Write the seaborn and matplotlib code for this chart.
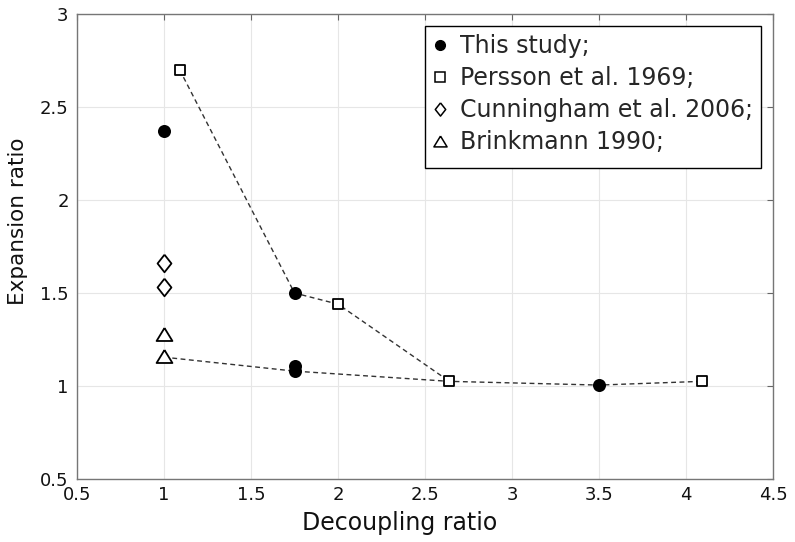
import numpy as np
import pandas as pd
import seaborn as sns
import matplotlib.pyplot as plt
from matplotlib.lines import Line2D
from matplotlib.patches import Rectangle

# data
sources = ["This study;", "Persson et al. 1969;", "Cunningham et al. 2006;", "Brinkmann 1990;"]

this_x = [1.0, 1.75, 1.75, 1.75, 3.5]
this_y = [2.37, 1.50, 1.11, 1.08, 1.005]

persson_x = [1.09, 2.0, 2.64, 4.09]
persson_y = [2.70, 1.44, 1.025, 1.025]

cunningham_x = [1.0, 1.0]
cunningham_y = [1.66, 1.53]

brinkmann_x = [1.0, 1.0]
brinkmann_y = [1.28, 1.16]

# dashed trend lines (through the points above)
upper_x = [1.09, 1.75, 2.0, 2.64]
upper_y = [2.70, 1.50, 1.44, 1.025]
lower_x = [1.0, 1.75, 2.64, 3.5, 4.09]
lower_y = [1.155, 1.08, 1.025, 1.005, 1.025]

df = pd.DataFrame({
    "x": this_x + persson_x + cunningham_x + brinkmann_x,
    "y": this_y + persson_y + cunningham_y + brinkmann_y,
    "source": [sources[0]] * len(this_x) + [sources[1]] * len(persson_x)
              + [sources[2]] * len(cunningham_x) + [sources[3]] * len(brinkmann_x),
})

sns.set_style("whitegrid")
plt.rcParams['font.family'] = ['DejaVu Sans']

W, H = 795, 542
fig = plt.figure(figsize=(W / 100, H / 100), dpi=100)
ax = fig.add_axes([77 / W, 1 - 479 / H, (773 - 77) / W, (479 - 14) / H])

dash = (0, (3.5, 2.5))
ax.plot(upper_x, upper_y, ls=dash, color="#333333", lw=1.0, zorder=2)
ax.plot(lower_x, lower_y, ls=dash, color="#333333", lw=1.0, zorder=2)

diamond = [(0, 1), (0.79, 0), (0, -1), (-0.79, 0), (0, 1)]
triangle = [(0, 0.82), (1, -0.82), (-1, -0.82), (0, 0.82)]
markers = {sources[0]: "o", sources[1]: "s", sources[2]: diamond, sources[3]: triangle}
sizes = {sources[0]: 88, sources[1]: 50, sources[2]: 160, sources[3]: 130}
for src in sources:
    sub = df[df["source"] == src]
    filled = src == sources[0]
    sns.scatterplot(data=sub, x="x", y="y", marker=markers[src], s=sizes[src],
                    color="black" if filled else "white", edgecolor="black",
                    linewidth=0 if filled else 1.3, ax=ax, legend=False, zorder=3)

ax.set_xlim(0.5, 4.5)
ax.set_ylim(0.5, 3)
ax.set_xticks(np.arange(0.5, 4.51, 0.5))
ax.set_yticks(np.arange(0.5, 3.01, 0.5))
ax.set_xticklabels(["0.5", "1", "1.5", "2", "2.5", "3", "3.5", "4", "4.5"])
ax.set_yticklabels(["0.5", "1", "1.5", "2", "2.5", "3"])
ax.tick_params(direction="in", length=4.5, width=0.8, color="#666666", labelsize=13,
               top=True, right=True, labelcolor="#111111")
ax.tick_params(axis="x", pad=5)
ax.tick_params(axis="y", pad=6)
ax.grid(True, color="#e6e6e6", lw=0.8)
for sp in ax.spines.values():
    sp.set_color("#767676")
    sp.set_linewidth(1.0)

ax.set_xlabel("Decoupling ratio", fontsize=17, color="#111111", labelpad=5)
ax.xaxis.label.set_x(0.464)
ax.set_ylabel("Expansion ratio", fontsize=15.5, color="#111111")
ax.yaxis.set_label_coords(-0.071, 0.555)

handles = [
    Line2D([], [], ls="none", marker="o", ms=7, mfc="black", mec="black"),
    Line2D([], [], ls="none", marker="s", ms=6.5, mfc="white", mec="black", mew=1.1),
    Line2D([], [], ls="none", marker=diamond, ms=9.5, mfc="white", mec="black", mew=1.1),
    Line2D([], [], ls="none", marker=triangle, ms=9.5, mfc="white", mec="black", mew=1.1),
]
leg = ax.legend(handles, sources, loc="upper left", bbox_to_anchor=(425 / W, 1 - 26 / H),
                bbox_transform=fig.transFigure, fontsize=17, frameon=False,
                handlelength=0.6, handletextpad=0.55, labelspacing=0.34,
                borderpad=0.35, borderaxespad=0)
leg.set_zorder(6)
# legend box drawn separately (extra space at the bottom as in the original)
ax.add_patch(Rectangle((425 / W, 1 - 168 / H), (761 - 425) / W, (168 - 26) / H,
                       transform=fig.transFigure, facecolor="white",
                       edgecolor="black", lw=1.0, zorder=5))

fig.savefig("out.png", dpi=100)
